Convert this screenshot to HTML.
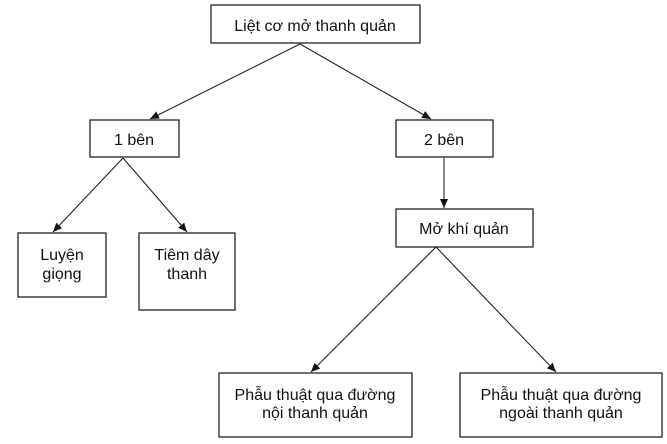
<!DOCTYPE html>
<html><head><meta charset="utf-8"><style>
body{margin:0;background:#fff;width:667px;height:444px;overflow:hidden}
svg{display:block}
text{font-family:"Liberation Sans",sans-serif;font-size:16px;fill:#111;text-anchor:middle}
rect{fill:#fff;stroke:#222;stroke-width:1.3}
line{stroke:#222;stroke-width:1.1}
</style></head><body>
<svg width="667" height="444" viewBox="0 0 667 444">
<defs><marker id="a" markerWidth="10" markerHeight="10" refX="9" refY="5" orient="auto" markerUnits="userSpaceOnUse"><path d="M0,1 L9,5 L0,9 z" fill="#111"/></marker></defs>
<line x1="300" y1="44" x2="150" y2="119" marker-end="url(#a)"/>
<line x1="300" y1="44" x2="431" y2="119" marker-end="url(#a)"/>
<line x1="123" y1="158" x2="53" y2="232" marker-end="url(#a)"/>
<line x1="123" y1="158" x2="187" y2="232" marker-end="url(#a)"/>
<line x1="444" y1="158" x2="444" y2="208" marker-end="url(#a)"/>
<line x1="436" y1="247" x2="311" y2="372" marker-end="url(#a)"/>
<line x1="436" y1="247" x2="556" y2="372" marker-end="url(#a)"/>
<rect x="211" y="5" width="209" height="38"/>
<text x="315" y="31">Liệt cơ mở thanh quản</text>
<rect x="90" y="120" width="89" height="37"/>
<text x="134" y="145">1 bên</text>
<rect x="396" y="120" width="97" height="37"/>
<text x="444" y="145">2 bên</text>
<rect x="396" y="209" width="137" height="38"/>
<text x="464" y="234">Mở khí quản</text>
<rect x="18" y="233" width="88" height="64"/>
<text x="62" y="260">Luyện</text><text x="62" y="279">giọng</text>
<rect x="139" y="233" width="96" height="77"/>
<text x="187" y="260">Tiêm dây</text><text x="187" y="279">thanh</text>
<rect x="219" y="373" width="193" height="64"/>
<text x="315" y="400">Phẫu thuật qua đường</text><text x="315" y="418">nội thanh quản</text>
<rect x="460" y="373" width="202" height="64"/>
<text x="561" y="400">Phẫu thuật qua đường</text><text x="561" y="418">ngoài thanh quản</text>
</svg>
</body></html>
